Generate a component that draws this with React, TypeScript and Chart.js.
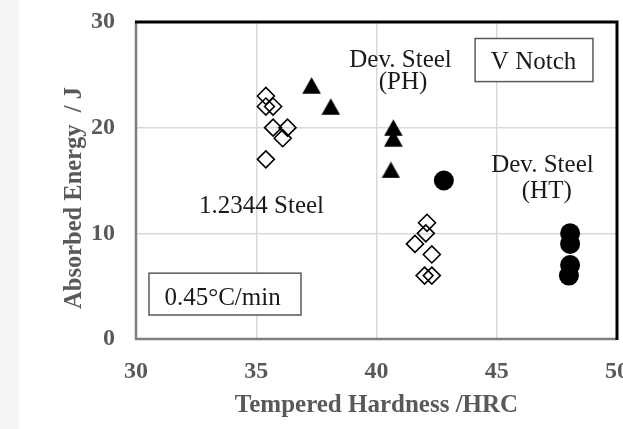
import React, { useEffect, useRef } from "react";
import { Chart, registerables } from "chart.js";

Chart.register(...registerables);

// 1.2344 Steel (open diamonds)
const steelHardness = [35.4, 35.4, 35.7, 35.7, 36.3, 36.1, 35.4, 42.1, 42.05, 41.6, 42.3, 42.0, 42.3];
const steelEnergy = [23, 22, 22, 20, 20, 19, 17, 11, 10, 9, 8, 6, 6];

// Dev. Steel (PH) (filled triangles)
const phHardness = [37.3, 38.1, 40.7, 40.7, 40.6];
const phEnergy = [24, 22, 20, 19, 16];

// Dev. Steel (HT) (filled circles)
const htHardness = [42.8, 48.05, 48.05, 48.05, 48.0];
const htEnergy = [15, 10, 9, 7, 6];

const xTicks = [30, 35, 40, 45, 50];
const yTicks = [0, 10, 20, 30];

const SERIF = "'Liberation Serif', 'Times New Roman', serif";

// Text labels inside the plot, anchored in data units (baseline centre)
const labelNotes = [
  { text: "Dev. Steel", x: 41.0, y: 25.78 },
  { text: "(PH)", x: 41.1, y: 23.67 },
  { text: "Dev. Steel", x: 46.9, y: 15.76 },
  { text: "(HT)", x: 47.08, y: 13.34 },
  { text: "1.2344 Steel", x: 35.22, y: 11.91 },
];

// Boxed notes: box extent and text baseline centre in data units
const boxNotes = [
  { text: "V Notch", x0: 44.1, x1: 49.0, y0: 24.36, y1: 28.44, tx: 46.53, ty: 25.56 },
  { text: "0.45°C/min", x0: 30.54, x1: 36.86, y0: 2.27, y1: 6.23, tx: 33.6, ty: 3.22 },
];

const toXY = (xs: number[], ys: number[]) => xs.map((x, i) => ({ x, y: ys[i] }));

function makeTriangle(): HTMLCanvasElement {
  const c = document.createElement("canvas");
  c.width = 19;
  c.height = 17;
  const g = c.getContext("2d")!;
  g.fillStyle = "#000";
  g.beginPath();
  g.moveTo(9.5, 0.3);
  g.lineTo(18.8, 16.7);
  g.lineTo(0.2, 16.7);
  g.closePath();
  g.fill();
  return c;
}

const noPadding = () => ({ left: 0, top: 0, right: 0, bottom: 0 });

const framePlugin = {
  id: "frame",
  beforeDraw(chart: any) {
    const { ctx, width, height } = chart;
    ctx.save();
    ctx.fillStyle = "#ffffff";
    ctx.fillRect(0, 0, width, height);
    ctx.fillStyle = "#f4f4f4";
    ctx.fillRect(0, 0, 19, height);
    ctx.restore();
  },
  beforeDatasetsDraw(chart: any) {
    const { ctx, chartArea: a } = chart;
    ctx.save();
    // left & bottom axis lines
    ctx.strokeStyle = "#7f7f7f";
    ctx.lineWidth = 2.5;
    ctx.beginPath();
    ctx.moveTo(a.left, a.top);
    ctx.lineTo(a.left, a.bottom);
    ctx.lineTo(a.right, a.bottom);
    ctx.stroke();
    // top & right frame
    ctx.strokeStyle = "#000000";
    ctx.lineWidth = 3;
    ctx.beginPath();
    ctx.moveTo(a.left - 1, a.top);
    ctx.lineTo(a.right, a.top);
    ctx.lineTo(a.right, a.bottom + 1);
    ctx.stroke();

    // boxed notes sit under the markers
    const xs = chart.scales.x;
    const ys = chart.scales.y;
    ctx.font = `25px ${SERIF}`;
    ctx.textAlign = "center";
    ctx.textBaseline = "alphabetic";
    for (const b of boxNotes) {
      const l = xs.getPixelForValue(b.x0);
      const r = xs.getPixelForValue(b.x1);
      const t = ys.getPixelForValue(b.y1);
      const btm = ys.getPixelForValue(b.y0);
      ctx.fillStyle = "#ffffff";
      ctx.fillRect(l, t, r - l, btm - t);
      ctx.strokeStyle = "#595959";
      ctx.lineWidth = 1.5;
      ctx.strokeRect(l, t, r - l, btm - t);
      ctx.fillStyle = "#1a1a1a";
      ctx.fillText(b.text, xs.getPixelForValue(b.tx), ys.getPixelForValue(b.ty));
    }
    ctx.restore();
  },
  afterDatasetsDraw(chart: any) {
    const { ctx, chartArea: a } = chart;
    const xs = chart.scales.x;
    const ys = chart.scales.y;
    ctx.save();
    ctx.font = `25px ${SERIF}`;
    ctx.textAlign = "center";
    ctx.textBaseline = "alphabetic";
    ctx.fillStyle = "#1a1a1a";
    for (const n of labelNotes) {
      ctx.fillText(n.text, xs.getPixelForValue(n.x), ys.getPixelForValue(n.y));
    }
    // axis titles
    ctx.fillStyle = "#595959";
    ctx.font = `bold 25px ${SERIF}`;
    ctx.fillText("Tempered Hardness /HRC", (a.left + a.right) / 2, a.bottom + 73);
    ctx.font = `bold 24.5px ${SERIF}`;
    ctx.translate(a.left - 55, a.top + 176);
    ctx.rotate(-Math.PI / 2);
    ctx.fillText("Absorbed Energy  / J", 0, 0);
    ctx.restore();
  },
};

export default function App() {
  const canvasRef = useRef<HTMLCanvasElement | null>(null);

  useEffect(() => {
    if (!canvasRef.current) return;
    const tri = makeTriangle();
    const tickFont = { family: SERIF, size: 24, weight: "bold" as const };
    const chart = new Chart(canvasRef.current, {
      type: "scatter",
      data: {
        datasets: [
          {
            label: "1.2344 Steel",
            data: toXY(steelHardness, steelEnergy),
            pointStyle: "rectRot",
            pointRadius: 8.5,
            borderColor: "#000000",
            borderWidth: 1.6,
            backgroundColor: "rgba(0,0,0,0)",
          },
          {
            label: "Dev. Steel (PH)",
            data: toXY(phHardness, phEnergy),
            pointStyle: tri,
            pointRadius: 10,
            backgroundColor: "#000000",
            borderColor: "#000000",
          },
          {
            label: "Dev. Steel (HT)",
            data: toXY(htHardness, htEnergy),
            pointStyle: "circle",
            pointRadius: 10,
            borderWidth: 0,
            backgroundColor: "#000000",
            borderColor: "#000000",
          },
        ],
      },
      options: {
        responsive: false,
        animation: false,
        devicePixelRatio: 1,
        layout: { autoPadding: false, padding: { left: 0, right: 6, top: 22, bottom: 0 } },
        plugins: {
          legend: { display: false },
          tooltip: { enabled: false },
        },
        scales: {
          x: {
            type: "linear",
            min: 30,
            max: 50,
            afterBuildTicks: (s: any) => {
              s.ticks = xTicks.map((v) => ({ value: v }));
            },
            afterFit: (s: any) => {
              s.height = 90;
              s.paddingLeft = 0;
              s.paddingRight = 0;
              s.getPadding = noPadding;
            },
            ticks: {
              font: tickFont,
              color: "#595959",
              padding: 18,
              autoSkip: false,
              maxRotation: 0,
              callback: (v: any) => String(v),
            },
            grid: { color: "#d9d9d9", lineWidth: 1.5, drawTicks: false },
            border: { display: false },
          },
          y: {
            type: "linear",
            min: 0,
            max: 30,
            afterBuildTicks: (s: any) => {
              s.ticks = yTicks.map((v) => ({ value: v }));
            },
            afterFit: (s: any) => {
              s.width = 136;
              s.paddingTop = 0;
              s.paddingBottom = 0;
              s.getPadding = noPadding;
            },
            ticks: {
              font: tickFont,
              color: "#595959",
              padding: 21,
              callback: (v: any) => String(v),
            },
            grid: { color: "#d9d9d9", lineWidth: 1.5, drawTicks: false },
            border: { display: false },
          },
        },
      },
      plugins: [framePlugin],
    });
    return () => chart.destroy();
  }, []);

  return (
    <div style={{ position: "fixed", left: 0, top: 0, width: 623, height: 429, background: "#fff" }}>
      <canvas ref={canvasRef} width={623} height={429} style={{ display: "block" }} />
    </div>
  );
}
